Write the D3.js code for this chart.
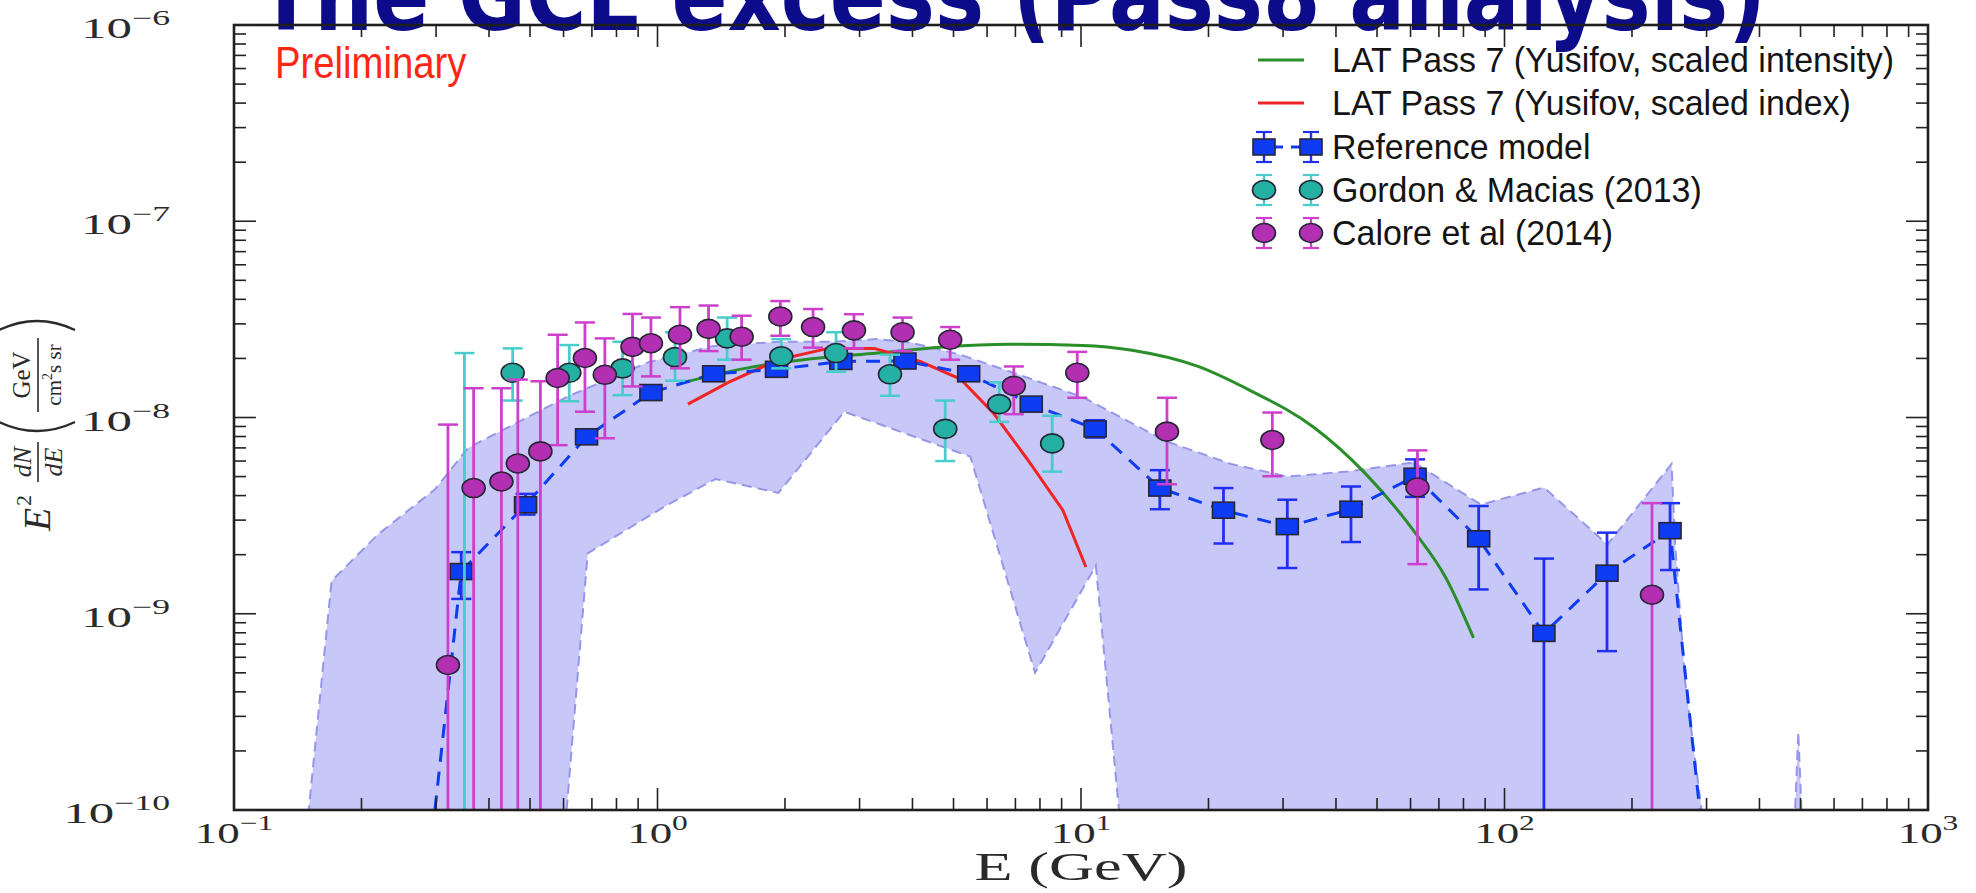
<!DOCTYPE html>
<html><head><meta charset="utf-8">
<script src="https://cdn.jsdelivr.net/npm/d3@7"></script>
<style>
html,body{margin:0;padding:0;background:#fff;overflow:hidden}
svg{display:block}
</style></head>
<body>
<svg id="chart" width="1976" height="893"></svg>
<script>
// ---------------- DATA ----------------
const titleText = "The GCE excess (Pass8 analysis)";
const legendLabels = [
  "LAT Pass 7 (Yusifov, scaled intensity)",
  "LAT Pass 7 (Yusifov, scaled index)",
  "Reference model",
  "Gordon & Macias (2013)",
  "Calore et al (2014)"
];
const xTickExps = [-1, 0, 1, 2, 3];
const yTickExps = [-10, -9, -8, -7, -6];

// Reference model (blue squares)
const refE  = [0.344, 0.488, 0.68, 0.965, 1.357, 1.91, 2.71, 3.84, 5.43, 7.63, 10.8, 15.35, 21.7, 30.7, 43.4, 61.5, 86.9, 123.9, 174.6, 246];
const refV  = [1.64e-9, 3.59e-9, 7.97e-9, 1.34e-8, 1.67e-8, 1.76e-8, 1.93e-8, 1.94e-8, 1.67e-8, 1.17e-8, 8.75e-9, 4.37e-9, 3.37e-9, 2.78e-9, 3.41e-9, 5.02e-9, 2.41e-9, 7.94e-10, 1.61e-9, 2.65e-9];
const refLo = [1.19e-9, 3.2e-9, 7.5e-9, 1.27e-8, 1.6e-8, 1.7e-8, 1.85e-8, 1.86e-8, 1.6e-8, 1.1e-8, 7.9e-9, 3.41e-9, 2.28e-9, 1.71e-9, 2.32e-9, 3.94e-9, 1.33e-9, 1e-11, 6.45e-10, 1.67e-9];
const refHi = [2.06e-9, 4.08e-9, 8.5e-9, 1.41e-8, 1.74e-8, 1.83e-8, 2.01e-8, 2.02e-8, 1.74e-8, 1.24e-8, 9.68e-9, 5.39e-9, 4.37e-9, 3.81e-9, 4.45e-9, 6.12e-9, 3.54e-9, 1.91e-9, 2.59e-9, 3.66e-9];
// dashed model line tails (below the axis at both ends)
const refTailE = [0.244, 348];
const refTailV = [2e-12, 2.3e-12];

// Gordon & Macias (2013) (cyan)
const gmE  = [0.35, 0.455, 0.619, 0.827, 1.10, 1.46, 1.96, 2.64, 3.54, 4.78, 6.41, 8.55];
const gmV  = [1e-11, 1.69e-8, 1.69e-8, 1.78e-8, 2.03e-8, 2.53e-8, 2.05e-8, 2.13e-8, 1.66e-8, 8.75e-9, 1.17e-8, 7.38e-9];
const gmLo = [1e-11, 1.22e-8, 1.21e-8, 1.30e-8, 1.54e-8, 1.97e-8, 1.78e-8, 1.71e-8, 1.29e-8, 6.0e-9, 9.5e-9, 5.3e-9];
const gmHi = [2.13e-8, 2.25e-8, 2.34e-8, 2.43e-8, 2.72e-8, 3.23e-8, 2.51e-8, 2.72e-8, 2.09e-8, 1.22e-8, 1.51e-8, 1.02e-8];

// Calore et al (2014) (magenta)
const calE  = [0.32, 0.368, 0.428, 0.468, 0.529, 0.581, 0.674, 0.751, 0.873, 0.965, 1.13, 1.32, 1.58, 1.95, 2.33, 2.91, 3.79, 4.91, 6.94, 9.8, 15.96, 28.3, 62.3, 223];
const calV  = [5.48e-10, 4.37e-9, 4.72e-9, 5.83e-9, 6.72e-9, 1.59e-8, 2.01e-8, 1.65e-8, 2.29e-8, 2.39e-8, 2.64e-8, 2.83e-8, 2.58e-8, 3.27e-8, 2.89e-8, 2.78e-8, 2.72e-8, 2.49e-8, 1.45e-8, 1.69e-8, 8.47e-9, 7.68e-9, 4.4e-9, 1.25e-9];
const calLo = [1e-11, 1e-11, 1e-11, 1e-11, 1e-11, 7.23e-9, 1.07e-8, 7.84e-9, 1.44e-8, 1.62e-8, 1.78e-8, 2.18e-8, 1.97e-8, 2.61e-8, 2.27e-8, 2.25e-8, 2.18e-8, 1.97e-8, 1.04e-8, 1.26e-8, 4.57e-9, 5.02e-9, 1.79e-9, 1e-11];
const calHi = [9.2e-9, 1.41e-8, 1.41e-8, 1.56e-8, 1.53e-8, 2.64e-8, 3.05e-8, 2.53e-8, 3.37e-8, 3.23e-8, 3.65e-8, 3.72e-8, 3.3e-8, 3.92e-8, 3.57e-8, 3.36e-8, 3.23e-8, 2.89e-8, 1.82e-8, 2.16e-8, 1.26e-8, 1.06e-8, 6.8e-9, 3.66e-9];

// LAT Pass 7 curves
const greenE = [1.155, 1.61, 2.31, 3.31, 4.74, 6.81, 10.1, 13.2, 18.9, 24.8, 35.5, 46.6, 61, 73, 84.5];
const greenV = [1.51e-8, 1.78e-8, 1.99e-8, 2.13e-8, 2.29e-8, 2.36e-8, 2.33e-8, 2.2e-8, 1.82e-8, 1.39e-8, 8.9e-9, 5.27e-9, 2.65e-9, 1.5e-9, 7.53e-10];
const redE = [1.18, 1.47, 1.93, 2.53, 3.25, 4.17, 5.19, 6.22, 7.44, 9.06, 10.27];
const redV = [1.17e-8, 1.51e-8, 1.97e-8, 2.25e-8, 2.25e-8, 1.93e-8, 1.57e-8, 1.05e-8, 6.2e-9, 3.37e-9, 1.73e-9];

// Uncertainty band (upper and lower envelopes)
const bandUpE = [0.135, 0.170, 0.219, 0.298, 0.357, 0.619, 0.95, 1.35, 1.93, 2.57, 3.31, 3.96, 5.19, 6.81, 10.1, 15.8, 22.6, 30.8, 42.5, 61, 88, 124, 175, 248, 253, 267, 292, 300, 465, 494, 525];
const bandUpV = [1e-11, 1.47e-9, 2.54e-9, 4.3e-9, 7.0e-9, 1.29e-8, 1.91e-8, 2.31e-8, 2.43e-8, 2.43e-8, 2.51e-8, 2.41e-8, 2.09e-8, 1.71e-8, 1.27e-8, 7.6e-9, 5.8e-9, 5.0e-9, 5.3e-9, 5.9e-9, 3.6e-9, 4.4e-9, 2.25e-9, 5.8e-9, 2.25e-9, 4.5e-10, 1e-10, 1e-11, 1e-11, 2.5e-10, 1e-11];
const bandLoE = [0.135, 0.559, 0.684, 1.04, 1.37, 1.93, 2.76, 5.48, 7.79, 10.84, 13.6, 525];
const bandLoV = [1e-11, 1e-11, 2.03e-9, 3.52e-9, 4.86e-9, 4.13e-9, 1.07e-8, 6.32e-9, 5.0e-10, 1.76e-9, 1e-11, 1e-11];

// ---------------- DRAW ----------------
const M = {left: 234, right: 1928, top: 25, bottom: 810};
const x = d3.scaleLog().domain([0.1, 1000]).range([M.left, M.right]);
const y = d3.scaleLog().domain([1e-10, 1e-6]).range([M.bottom, M.top]);
const svg = d3.select('#chart');
const SERIF = "'Liberation Serif','DejaVu Serif',serif";
const SANS = "'Liberation Sans',Arial,Helvetica,sans-serif";

const C = {
  band: 'rgb(200,200,248)', bandEdge: 'rgb(150,150,232)',
  green: '#2a8f2a', red: '#f02424',
  blue: '#0d3cf2', blueBar: '#1f30f0',
  cyan: '#25b0a4', cyanBar: '#48cccc',
  mag: '#b22fb2', magBar: '#cc40cc', edge: '#262636'
};

svg.append('defs').append('clipPath').attr('id', 'clip').append('rect')
  .attr('x', M.left).attr('y', M.top).attr('width', M.right - M.left).attr('height', M.bottom - M.top);

// Title (cropped at top of slide)
svg.append('text').attr('x', 258).attr('y', 30)
  .attr('textLength', 1508).attr('lengthAdjust', 'spacingAndGlyphs')
  .style('font-family', "'DejaVu Sans',sans-serif").style('font-weight', 'bold')
  .style('font-size', '100px').attr('fill', '#0c0c8a').text(titleText);

const plot = svg.append('g').attr('clip-path', 'url(#clip)');

// band
const bandPts = bandUpE.map((e, i) => [e, bandUpV[i]])
  .concat(bandLoE.map((e, i) => [e, bandLoV[i]]).reverse());
const lineXY = d3.line().x(d => x(d[0])).y(d => y(d[1]));
plot.append('path').attr('d', lineXY(bandPts) + 'Z')
  .attr('fill', C.band).attr('stroke', C.bandEdge).attr('stroke-width', 2)
  .attr('stroke-dasharray', '10,6');

// model curves
plot.append('path').attr('d', d3.line().x(d => x(d[0])).y(d => y(d[1])).curve(d3.curveMonotoneX)(greenE.map((e, i) => [e, greenV[i]])))
  .attr('fill', 'none').attr('stroke', C.green).attr('stroke-width', 3);
plot.append('path').attr('d', lineXY(redE.map((e, i) => [e, redV[i]])))
  .attr('fill', 'none').attr('stroke', C.red).attr('stroke-width', 3);

// reference model dashed line
const refLine = [[refTailE[0], refTailV[0]]].concat(refE.map((e, i) => [e, refV[i]])).concat([[refTailE[1], refTailV[1]]]);
plot.append('path').attr('d', lineXY(refLine))
  .attr('fill', 'none').attr('stroke', C.blue).attr('stroke-width', 3).attr('stroke-dasharray', '14,10');

const SQW = 22, SQH = 16, CRX = 11.5, CRY = 9.5;
function errBars(g, E, V, lo, hi, color) {
  const cap = 10;
  E.forEach((e, i) => {
    const xx = x(e);
    g.append('line').attr('x1', xx).attr('x2', xx).attr('y1', y(lo[i])).attr('y2', y(hi[i]))
      .attr('stroke', color).attr('stroke-width', 2.8);
    [lo[i], hi[i]].forEach(v => {
      g.append('line').attr('x1', xx - cap).attr('x2', xx + cap).attr('y1', y(v)).attr('y2', y(v))
        .attr('stroke', color).attr('stroke-width', 2.5);
    });
  });
}
function squares(g, E, V, fill) {
  g.selectAll(null).data(E).enter().append('rect')
    .attr('x', d => x(d) - SQW / 2).attr('y', (d, i) => y(V[i]) - SQH / 2).attr('width', SQW).attr('height', SQH)
    .attr('fill', fill).attr('stroke', C.edge).attr('stroke-width', 1.6);
}
function circles(g, E, V, fill) {
  g.selectAll(null).data(E).enter().append('ellipse')
    .attr('cx', d => x(d)).attr('cy', (d, i) => y(V[i])).attr('rx', CRX).attr('ry', CRY)
    .attr('fill', fill).attr('stroke', C.edge).attr('stroke-width', 1.6);
}
const gRef = plot.append('g'); errBars(gRef, refE, refV, refLo, refHi, C.blueBar); squares(gRef, refE, refV, C.blue);
const gGm = plot.append('g'); errBars(gGm, gmE, gmV, gmLo, gmHi, C.cyanBar); circles(gGm, gmE, gmV, C.cyan);
const gCal = plot.append('g'); errBars(gCal, calE, calV, calLo, calHi, C.magBar); circles(gCal, calE, calV, C.mag);

// frame and ticks
const axes = svg.append('g');
axes.append('rect').attr('x', M.left).attr('y', M.top).attr('width', M.right - M.left).attr('height', M.bottom - M.top)
  .attr('fill', 'none').attr('stroke', '#1e1e1e').attr('stroke-width', 2.6);
const isMajor = t => Math.abs(Math.log10(t) - Math.round(Math.log10(t))) < 1e-6;
x.ticks().forEach(t => {
  const L = isMajor(t) ? 22 : 12, xx = x(t);
  axes.append('line').attr('x1', xx).attr('x2', xx).attr('y1', M.bottom).attr('y2', M.bottom - L).attr('stroke', '#222').attr('stroke-width', 1.6);
  axes.append('line').attr('x1', xx).attr('x2', xx).attr('y1', M.top).attr('y2', M.top + L).attr('stroke', '#222').attr('stroke-width', 1.6);
});
y.ticks().forEach(t => {
  const L = isMajor(t) ? 22 : 12, yy = y(t);
  axes.append('line').attr('x1', M.left).attr('x2', M.left + L).attr('y1', yy).attr('y2', yy).attr('stroke', '#222').attr('stroke-width', 1.6);
  axes.append('line').attr('x1', M.right).attr('x2', M.right - L).attr('y1', yy).attr('y2', yy).attr('stroke', '#222').attr('stroke-width', 1.6);
});

function powLabel(g, exp, anchor) {
  const t = g.append('text').attr('text-anchor', anchor).style('font-family', SERIF).attr('fill', '#2a2a2a');
  t.append('tspan').style('font-size', '30px').text('10');
  t.append('tspan').attr('dy', -13).style('font-size', '21px').text(exp < 0 ? '\u2212' + (-exp) : String(exp));
}
xTickExps.forEach(k => {
  const g = svg.append('g').attr('transform', `translate(${x(Math.pow(10, k))},843) scale(1.5,1)`);
  powLabel(g, k, 'middle');
});
yTickExps.forEach(k => {
  const g = svg.append('g').attr('transform', `translate(170,${y(Math.pow(10, k)) + 13}) scale(1.7,1)`);
  powLabel(g, k, 'end');
});

// x label
svg.append('g').attr('transform', `translate(${x(10)},880) scale(1.6,1)`)
  .append('text').attr('text-anchor', 'middle').style('font-family', SERIF).style('font-size', '39px')
  .attr('fill', '#2a2a2a').text('E (GeV)');

// y label (rotated math expression)
const yl = svg.append('g').attr('transform', 'translate(37,424) rotate(-90)')
  .style('font-family', SERIF).attr('fill', '#2a2a2a');
yl.append('text').attr('x', -107).attr('y', 13).style('font-style', 'italic').style('font-size', '38px').text('E');
yl.append('text').attr('x', -82).attr('y', -6).style('font-size', '22px').text('2');
yl.append('text').attr('x', -38).attr('y', -6).attr('text-anchor', 'middle').style('font-style', 'italic').style('font-size', '26px').text('dN');
yl.append('text').attr('x', -38).attr('y', 25).attr('text-anchor', 'middle').style('font-style', 'italic').style('font-size', '26px').text('dE');
yl.append('line').attr('x1', -58).attr('x2', -18).attr('y1', 1).attr('y2', 1).attr('stroke', '#2a2a2a').attr('stroke-width', 1.6);
yl.append('path').attr('d', 'M 2,-38 Q -16,0 2,38').attr('fill', 'none').attr('stroke', '#2a2a2a').attr('stroke-width', 2.4);
yl.append('path').attr('d', 'M 94,-38 Q 112,0 94,38').attr('fill', 'none').attr('stroke', '#2a2a2a').attr('stroke-width', 2.4);
yl.append('text').attr('x', 49).attr('y', -7).attr('text-anchor', 'middle').style('font-size', '25px').text('GeV');
const den = yl.append('text').attr('x', 49).attr('y', 24).attr('text-anchor', 'middle').style('font-size', '21px');
den.append('tspan').text('cm');
den.append('tspan').attr('dy', -9).style('font-size', '14px').text('2');
den.append('tspan').attr('dy', 9).text('s sr');
yl.append('line').attr('x1', 12).attr('x2', 86).attr('y1', 1).attr('y2', 1).attr('stroke', '#2a2a2a').attr('stroke-width', 1.6);

// Preliminary
svg.append('g').attr('transform', 'translate(275,78) scale(0.87,1)')
  .append('text').style('font-family', SANS).style('font-size', '44px').attr('fill', '#ff2616').text('Preliminary');

// Legend
const legRows = [60, 103, 147, 190, 233];
const hx1 = 1258, hx2 = 1304, mk1 = 1264, mk2 = 1311;
const leg = svg.append('g');
function legErr(yy, xx, color) {
  leg.append('line').attr('x1', xx).attr('x2', xx).attr('y1', yy - 15).attr('y2', yy + 15).attr('stroke', color).attr('stroke-width', 2.4);
  [yy - 15, yy + 15].forEach(v => leg.append('line').attr('x1', xx - 8).attr('x2', xx + 8).attr('y1', v).attr('y2', v).attr('stroke', color).attr('stroke-width', 2.2));
}
legendLabels.forEach((lab, i) => {
  const yy = legRows[i];
  if (i === 0 || i === 1) {
    leg.append('line').attr('x1', hx1).attr('x2', hx2).attr('y1', yy).attr('y2', yy)
      .attr('stroke', i === 0 ? C.green : C.red).attr('stroke-width', 3);
  } else {
    const barC = i === 2 ? C.blueBar : (i === 3 ? C.cyanBar : C.magBar);
    const fill = i === 2 ? C.blue : (i === 3 ? C.cyan : C.mag);
    if (i === 2) leg.append('line').attr('x1', mk1).attr('x2', mk2).attr('y1', yy).attr('y2', yy)
      .attr('stroke', C.blue).attr('stroke-width', 3).attr('stroke-dasharray', '10,8').attr('stroke-dashoffset', -9);
    [mk1, mk2].forEach(xx => {
      legErr(yy, xx, barC);
      if (i === 2) leg.append('rect').attr('x', xx - SQW / 2).attr('y', yy - SQH / 2).attr('width', SQW).attr('height', SQH)
        .attr('fill', fill).attr('stroke', C.edge).attr('stroke-width', 1.6);
      else leg.append('ellipse').attr('cx', xx).attr('cy', yy).attr('rx', CRX).attr('ry', CRY)
        .attr('fill', fill).attr('stroke', C.edge).attr('stroke-width', 1.6);
    });
  }
  leg.append('g').attr('transform', `translate(1332,${yy + 12}) scale(0.97,1)`)
    .append('text').style('font-family', SANS).style('font-size', '35px').attr('fill', '#141414').text(lab);
});
</script>
</body></html>
